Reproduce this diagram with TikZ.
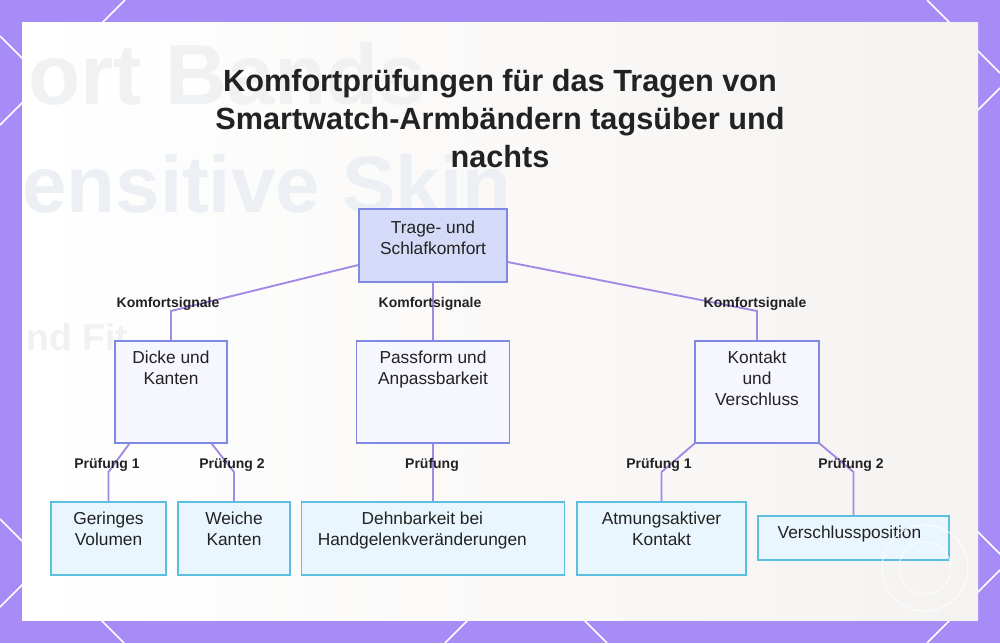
\documentclass[tikz,border=0pt]{standalone}
\usepackage{fontspec}
\setmainfont{Liberation Sans}
\definecolor{bgpurple}{HTML}{A78BF7}
\definecolor{panelR}{HTML}{F5F3F1}
\definecolor{rootfill}{HTML}{D6DAF9}
\definecolor{boxdraw}{HTML}{7F88E2}
\definecolor{midfill}{HTML}{F5F6FE}
\definecolor{leaffill}{HTML}{EAF6FD}
\definecolor{leafdraw}{HTML}{5DBFE0}
\definecolor{edgecol}{HTML}{A488E6}
\definecolor{txt}{HTML}{222222}
\definecolor{ghost}{HTML}{F0F1F3}
\definecolor{ghostb}{HTML}{ECF0F5}
\tikzset{
  toptext/.style={label={[font=\fontsize{13pt}{15.75pt}\selectfont, text=txt, align=center, inner sep=0pt, anchor=north, yshift=-7.5pt]north:{#1}}},
  roottext/.style={label={[font=\fontsize{13pt}{15.75pt}\selectfont, text=txt, align=center, inner sep=0pt, anchor=north, yshift=-9pt]north:{#1}}},
  rootbox/.style={draw=boxdraw, fill=rootfill, line width=1pt, inner sep=0pt},
  midbox/.style={draw=boxdraw, fill=midfill, line width=1pt, inner sep=0pt},
  leafbox/.style={draw=leafdraw, fill=leaffill, line width=1pt, inner sep=0pt},
  conn/.style={draw=edgecol, line width=1.4pt},
  elabel/.style={font=\bfseries\fontsize{10.5pt}{12pt}\selectfont, text=txt, inner sep=0pt},
  titletext/.style={font=\bfseries\fontsize{23pt}{28.5pt}\selectfont, text=txt, align=center, inner sep=0pt, anchor=north},
  deco/.style={draw=white, line width=1.1pt},
  ghosttext/.style={font=\bfseries, inner sep=0pt, anchor=base west}
}
\begin{document}
\begin{tikzpicture}[x=0.75pt,y=-0.75pt]
\useasboundingbox (0,0) rectangle (1000,643);
\fill[bgpurple] (0,0) rectangle (1000,643);
% decorative diagonal lines
\draw[deco] (125,0) -- (0,125);
\draw[deco] (0,36) -- (607,643);
\draw[deco] (927,0) -- (1000,73);
\draw[deco] (1000,88) -- (445,643);
\draw[deco] (946,500) -- (1000,554);
\draw[deco] (1000,570) -- (927,643);
\draw[deco] (40,567) -- (0,607);
\draw[deco] (0,519) -- (124,643);
% panel
\shade[left color=white, right color=panelR] (22,22) rectangle (978,620);
\begin{scope}
\clip (22,22) rectangle (978,620);
\node[ghosttext, text=ghost, font=\bfseries\fontsize{64pt}{64pt}\selectfont] (g1) at (28,104) {ort Bands};
\node[ghosttext, text=ghostb, font=\bfseries\fontsize{60pt}{60pt}\selectfont] (g2) at (22,212) {ensitive Skin};
\node[ghosttext, text=ghost, font=\bfseries\fontsize{28pt}{28pt}\selectfont] (g3) at (26,350) {nd Fit};
\end{scope}
% title
\node[titletext] (title) at (500,69) {Komfortprüfungen für das Tragen von\\Smartwatch-Armbändern tagsüber und\\nachts};
% nodes
\node[rootbox, minimum width=111pt, minimum height=54.75pt, roottext={Trage- und\\Schlafkomfort}] (root) at (433,245.5) {};
\node[midbox, minimum width=84pt, minimum height=76.5pt, toptext={Dicke und\\Kanten}] (dk) at (171,392) {};
\node[midbox, minimum width=114.75pt, minimum height=76.5pt, toptext={Passform und\\Anpassbarkeit}] (pf) at (433,392) {};
\node[midbox, minimum width=93pt, minimum height=76.5pt, toptext={Kontakt\\und\\Verschluss}] (kv) at (757,392) {};
\node[leafbox, minimum width=86.25pt, minimum height=54.75pt, toptext={Geringes\\Volumen}] (gv) at (108.5,538.5) {};
\node[leafbox, minimum width=84pt, minimum height=54.75pt, toptext={Weiche\\Kanten}] (wk) at (234,538.5) {};
\node[leafbox, minimum width=197.25pt, minimum height=54.75pt, label={[font=\fontsize{13pt}{15.75pt}\selectfont, text=txt, align=center, inner sep=0pt, anchor=north, yshift=-7.5pt, xshift=-8pt]north:{Dehnbarkeit bei\\Handgelenkveränderungen}}] (db) at (433,538.5) {};
\node[leafbox, minimum width=126.75pt, minimum height=54.75pt, toptext={Atmungsaktiver\\Kontakt}] (ak) at (661.5,538.5) {};
\node[leafbox, minimum width=143.25pt, minimum height=33pt, label={[font=\fontsize{13pt}{15.75pt}\selectfont, text=txt, inner sep=0pt, anchor=north, yshift=-7.5pt, xshift=-3pt]north:{Verschlussposition}}] (vp) at (853.5,538) {};
% bend points
\coordinate (b1) at (171,311);
\coordinate (b3) at (757,311);
\coordinate (b4) at (108.5,472);
\coordinate (b5) at (234,472);
\coordinate (b6) at (661.5,472);
\coordinate (b7) at (853.5,472);
% connectors
\draw[conn] ([yshift=-14.6pt]root.west) -- (b1) -- (dk.north);
\draw[conn] (root.south) -- (pf.north);
\draw[conn] ([yshift=-12.4pt]root.east) -- (b3) -- (kv.north);
\draw[conn] ([xshift=11.25pt]dk.south west) -- (b4) -- (gv.north);
\draw[conn] ([xshift=-12pt]dk.south east) -- (b5) -- (wk.north);
\draw[conn] (pf.south) -- (db.north);
\draw[conn] (kv.south west) -- (b6) -- (ak.north);
\draw[conn] (kv.south east) -- (b7) -- (vp.north);
% connector labels
\node[elabel] (l1) at (168,304) {Komfortsignale};
\node[elabel] (l2) at (430,304) {Komfortsignale};
\node[elabel] (l3) at (755,304) {Komfortsignale};
\node[elabel] (l4) at (107,465) {Prüfung 1};
\node[elabel] (l5) at (232,465) {Prüfung 2};
\node[elabel] (l6) at (432,465) {Prüfung};
\node[elabel] (l7) at (659,465) {Prüfung 1};
\node[elabel] (l8) at (851,465) {Prüfung 2};
% watermark
\draw[white, line width=0.7pt, opacity=0.85] (925,568) circle[radius=43];
\draw[white, line width=0.6pt, opacity=0.85] (925,568) circle[radius=26];
\end{tikzpicture}
\end{document}
